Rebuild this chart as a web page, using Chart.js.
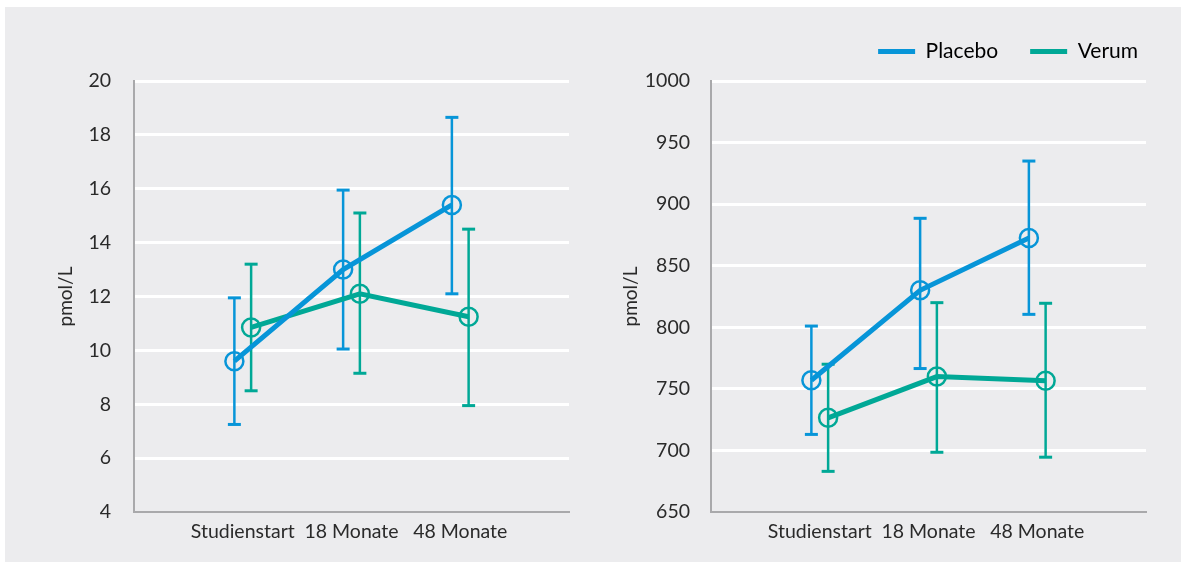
<!DOCTYPE html>
<html><head><meta charset="utf-8">
<script src="https://cdn.jsdelivr.net/npm/chart.js@4.4.1/dist/chart.umd.min.js"></script>
<style>
html,body{margin:0;padding:0;background:#fff;overflow:hidden;}
#bg{position:absolute;left:5px;top:7px;width:1176px;height:555px;background:#ECECEE;}
.wrap{position:absolute;top:0;height:562px;}
canvas{display:block;}
</style></head><body>
<div id="bg"></div>
<div class="wrap" style="left:0;width:590px"><canvas id="c1" width="590" height="562"></canvas></div>
<div class="wrap" style="left:590px;width:591px"><canvas id="c2" width="591" height="562"></canvas></div>
<script>
// ---- data ----
const categories = ['Studienstart', '18 Monate', '48 Monate'];
const seriesNames = ['Placebo', 'Verum'];

// Left panel (pmol/L)
const leftYTicks = [4, 6, 8, 10, 12, 14, 16, 18, 20];
const leftPlaceboMean = [9.6, 13.0, 15.4];
const leftPlaceboLow  = [7.25, 10.05, 12.1];
const leftPlaceboHigh = [11.95, 15.95, 18.65];
const leftVerumMean = [10.85, 12.1, 11.25];
const leftVerumLow  = [8.5, 9.15, 7.95];
const leftVerumHigh = [13.2, 15.1, 14.5];

// Right panel (pmol/L)
const rightYTicks = [650, 700, 750, 800, 850, 900, 950, 1000];
const rightPlaceboMean = [757, 830, 872.5];
const rightPlaceboLow  = [713, 766.5, 810.5];
const rightPlaceboHigh = [801, 888.5, 935];
const rightVerumMean = [726.5, 760, 756.5];
const rightVerumLow  = [683, 698.5, 694.5];
const rightVerumHigh = [770, 820, 819.5];

// ---- styling ----
const BLUE = '#0795D8';
const TEAL = '#00A896';
const FONT = 'Lato, "Open Sans", sans-serif';
const TXT = '#2A2A2A';
const AXIS = '#A9A9AB';
const OFFSET = 0.077;

Chart.defaults.font.family = FONT;

function meanDataset(name, color, means, off) {
  return {
    label: name, type: 'line', order: 0,
    data: means.map((v, i) => ({x: i + off, y: v})),
    borderColor: color, backgroundColor: color, borderWidth: 5,
    pointStyle: 'circle', pointRadius: 9, pointHoverRadius: 9,
    pointBorderWidth: 2.5, pointBackgroundColor: 'rgba(0,0,0,0)', pointBorderColor: color,
    tension: 0, fill: false
  };
}
function errorDatasets(color, lows, highs, off) {
  return lows.map((lo, i) => ({
    label: '', type: 'line', order: 1,
    data: [{x: i + off, y: lo}, {x: i + off, y: highs[i]}],
    borderColor: color, backgroundColor: color, borderWidth: 2.5,
    pointStyle: 'line', pointRadius: 6.5, pointHoverRadius: 6.5,
    pointBorderWidth: 3, pointBorderColor: color, fill: false
  }));
}

function build(canvasId, cfg) {
  const datasets = [
    meanDataset(seriesNames[0], BLUE, cfg.pMean, -OFFSET),
    meanDataset(seriesNames[1], TEAL, cfg.vMean, OFFSET),
    ...errorDatasets(BLUE, cfg.pLow, cfg.pHigh, -OFFSET),
    ...errorDatasets(TEAL, cfg.vLow, cfg.vHigh, OFFSET)
  ];
  const yMin = cfg.yTicks[0], yMax = cfg.yTicks[cfg.yTicks.length - 1];
  const plugins = [];
  if (cfg.legend) {
    plugins.push({
      id: 'legendTweak',
      beforeLayout(chart) {
        const lg = chart.legend;
        if (lg && !lg._tw) {
          const f = lg.fit;
          lg.fit = function () { f.call(this); this.height += cfg.legendExtra; };
          lg._tw = true;
        }
      },
      afterLayout(chart) {
        const lg = chart.legend;
        if (lg) { lg.left += cfg.legendShift; lg.right += cfg.legendShift; }
      }
    });
  }
  return new Chart(document.getElementById(canvasId), {
    type: 'line',
    data: {datasets},
    plugins,
    options: {
      responsive: false, animation: false, devicePixelRatio: 1, events: [],
      layout: {padding: cfg.padding},
      plugins: {
        tooltip: {enabled: false},
        legend: {
          display: !!cfg.legend, position: 'top', align: 'end',
          labels: {
            boxWidth: 37, boxHeight: 5, padding: 32, color: '#222',
            font: {family: FONT, size: 21},
            generateLabels: () => seriesNames.map((n, i) => ({
              text: n, fillStyle: i === 0 ? BLUE : TEAL, strokeStyle: i === 0 ? BLUE : TEAL,
              lineWidth: 0, hidden: false, datasetIndex: i
            }))
          }
        }
      },
      scales: {
        x: {
          type: 'linear', min: -1, max: 3,
          afterBuildTicks: s => { s.ticks = categories.map((c, i) => ({value: i})); },
          ticks: {
            callback: v => categories[v] !== undefined ? categories[v] : '',
            font: {size: 19.5}, color: TXT, padding: 8, maxRotation: 0, autoSkip: false
          },
          grid: {display: false, drawTicks: false},
          border: {display: true, color: AXIS, width: 2},
          afterFit: s => { s.height = 50; }
        },
        y: {
          min: yMin, max: yMax,
          afterBuildTicks: s => { s.ticks = cfg.yTicks.map(v => ({value: v})); },
          ticks: {font: {size: 19.5}, color: TXT, padding: cfg.tickPad, callback: v => String(v)},
          grid: {color: '#FFFFFF', lineWidth: c => (c.tick && c.tick.value === yMin) ? 0 : 3, drawTicks: false},
          border: {display: true, color: AXIS, width: 2},
          title: {display: true, text: 'pmol/L', color: TXT, font: {size: 19}, padding: {top: cfg.titlePad, bottom: 0}},
          afterFit: s => { s.width = cfg.yWidth; }
        }
      }
    }
  });
}

build('c1', {
  pMean: leftPlaceboMean, pLow: leftPlaceboLow, pHigh: leftPlaceboHigh,
  vMean: leftVerumMean, vLow: leftVerumLow, vHigh: leftVerumHigh,
  yTicks: leftYTicks, padding: {top: 81, right: 21, bottom: 0, left: 0},
  yWidth: 134, tickPad: 23, titlePad: 54, legend: false
});
build('c2', {
  pMean: rightPlaceboMean, pLow: rightPlaceboLow, pHigh: rightPlaceboHigh,
  vMean: rightVerumMean, vLow: rightVerumLow, vHigh: rightVerumHigh,
  yTicks: rightYTicks, padding: {top: 9, right: 35, bottom: 0, left: 0},
  yWidth: 121, tickPad: 21, titlePad: 29, legend: true, legendExtra: 9, legendShift: 24
});
</script>
</body></html>
